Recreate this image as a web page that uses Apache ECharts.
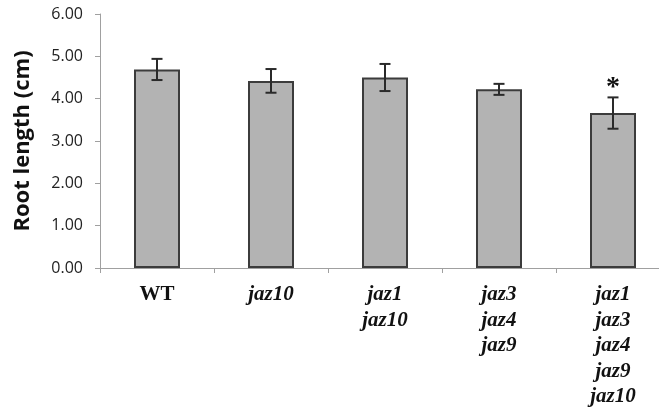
<!DOCTYPE html>
<html><head><meta charset="utf-8">
<script src="https://cdn.jsdelivr.net/npm/echarts@6/dist/echarts.min.js"></script>
<style>html,body{margin:0;padding:0;background:#fff;overflow:hidden}#c{width:671px;height:408px}</style>
</head><body><div id="c"></div>
<script>
const categories = ['WT', 'jaz10', 'jaz1\njaz10', 'jaz3\njaz4\njaz9', 'jaz1\njaz3\njaz4\njaz9\njaz10'];
const rootLength = [4.69, 4.42, 4.50, 4.22, 3.66];
const errorSE = [0.25, 0.28, 0.32, 0.13, 0.37];
const significance = ['', '', '', '', '*'];
const yTicks = [0, 1, 2, 3, 4, 5, 6];

const chart = echarts.init(document.getElementById('c'));
const errData = rootLength.map((v, i) => [i, v - errorSE[i], v + errorSE[i], significance[i]]);
chart.setOption({
  animation: false,
  grid: {left: 100, top: 14, right: 1, height: 254},
  xAxis: {
    type: 'category', data: categories,
    axisLine: {lineStyle: {color: '#a0a0a0', width: 1}},
    axisTick: {show: true, length: 5, lineStyle: {color: '#a0a0a0'}},
    axisLabel: {
      margin: 14, interval: 0,
      formatter: function (v) {
        const tag = v === 'WT' ? 'n' : 'i';
        return v.split('\n').map(s => '{' + tag + '|' + s + '}').join('\n');
      },
      rich: {
        n: {fontFamily: 'Liberation Serif', fontWeight: 'bold', fontSize: 21, color: '#111', lineHeight: 25.5},
        i: {fontFamily: 'Liberation Serif', fontWeight: 'bold', fontStyle: 'italic', fontSize: 21, color: '#111', lineHeight: 25.5}
      }
    }
  },
  yAxis: {
    type: 'value', min: yTicks[0], max: yTicks[yTicks.length - 1], interval: 1,
    name: 'Root length (cm)', nameLocation: 'middle', nameGap: 66,
    nameTextStyle: {fontFamily: 'Open Sans', fontWeight: 'bold', fontSize: 22, color: '#111'},
    axisLine: {show: true, lineStyle: {color: '#a0a0a0'}},
    axisTick: {show: true, length: 5, lineStyle: {color: '#a0a0a0'}},
    splitLine: {show: false},
    axisLabel: {margin: 17, fontFamily: 'Open Sans', fontSize: 16, color: '#222', formatter: v => v.toFixed(2)}
  },
  series: [
    {type: 'bar', data: rootLength, barWidth: 46,
     itemStyle: {color: '#b3b3b3', borderColor: '#3c3c3c', borderWidth: 2}},
    {type: 'custom', data: errData, z: 10,
     renderItem: function (params, api) {
       const x = api.value(0);
       const lo = api.coord([x, api.value(1)]);
       const hi = api.coord([x, api.value(2)]);
       const w = 5.5;
       const st = {stroke: '#2a2a2a', lineWidth: 2};
       const children = [
         {type: 'line', shape: {x1: lo[0], y1: lo[1], x2: hi[0], y2: hi[1]}, style: st},
         {type: 'line', shape: {x1: lo[0] - w, y1: lo[1], x2: lo[0] + w, y2: lo[1]}, style: st},
         {type: 'line', shape: {x1: hi[0] - w, y1: hi[1], x2: hi[0] + w, y2: hi[1]}, style: st}
       ];
       const s = api.value(3);
       if (s) {
         children.push({type: 'text', x: hi[0], y: hi[1] + 4,
           style: {text: s, fontFamily: 'Liberation Serif', fontWeight: 'bold', fontSize: 28, fill: '#111', align: 'center', verticalAlign: 'bottom'}});
       }
       return {type: 'group', children: children};
     }}
  ]
});
</script></body></html>
